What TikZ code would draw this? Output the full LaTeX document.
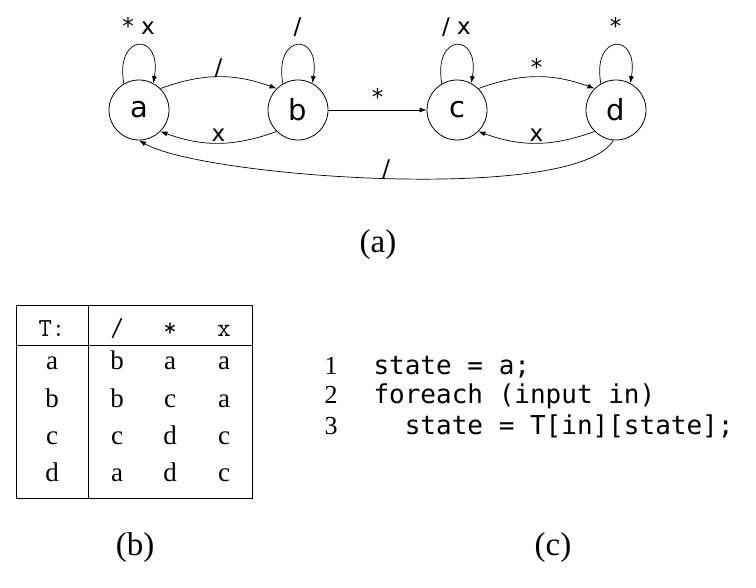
\documentclass[tikz,border=0pt]{standalone}
\usepackage{fontspec}
\setmainfont{Liberation Serif}
\setsansfont{DejaVu Sans}
\newfontfamily\codefont{DejaVu Sans Mono}
\usetikzlibrary{arrows.meta,positioning}

\tikzset{
  fsmstate/.style={shape=circle, draw=black, line width=0.8pt, minimum size=60pt, inner sep=0pt,
    font=\sffamily\fontsize{29}{29}\selectfont},
  trans/.style={-{Latex[length=7pt,width=5pt]}, line width=0.7pt},
  lbl/.style={font=\sffamily\fontsize{23}{23}\selectfont, inner sep=1pt, text height=0.72em, text depth=0.05em},
  looplbl/.style={lbl, above=9pt},
  cell/.style={anchor=base, font=\fontsize{27}{27}\selectfont},
  numcell/.style={anchor=base, font=\fontsize{26}{26}\selectfont},
  headcell/.style={anchor=base, font=\ttfamily\fontsize{26}{26}\selectfont},
  subcap/.style={font=\fontsize{33}{33}\selectfont},
  codeline/.style={anchor=base west, font=\codefont\fontsize{26}{26}\selectfont},
}

\begin{document}
\begin{tikzpicture}[x=1pt,y=1pt]
\useasboundingbox (0,0) rectangle (756,-588);

% States
\node[fsmstate] (a) at (139,-110) {a};
\node[fsmstate] (b) at (298,-110) {b};
\node[fsmstate] (c) at (457,-110) {c};
\node[fsmstate] (d) at (616,-110) {d};

% Transitions
\draw[trans] (a.120) to[out=100, in=80, distance=52pt] node[looplbl] {* x} (a.62);
\draw[trans] (b.120) to[out=100, in=80, distance=52pt] node[looplbl] {/} (b.62);
\draw[trans] (c.120) to[out=100, in=80, distance=52pt] node[looplbl] {/ x} (c.62);
\draw[trans] (d.120) to[out=100, in=80, distance=52pt] node[looplbl] {*} (d.62);
\draw[trans] (a.45) to[bend left=20] node[lbl, above] {/} (b.135);
\draw[trans] (b.225) to[bend left=20] node[lbl, above] {x} (a.315);
\draw[trans] (b) -- node[lbl, above=3pt] {*} (c);
\draw[trans] (c.45) to[bend left=20] node[lbl, above] {*} (d.135);
\draw[trans] (d.225) to[bend left=20] node[lbl, above] {x} (c.315);
\draw[trans] (d.265) to[out=240, in=330, looseness=0.4] node[lbl, above] {/} (a.270);

\node[subcap] (capa) at (378,-245) {(a)};

% Table
\draw[line width=0.8pt] (16,-305) rectangle (252,-498);
\draw[line width=0.8pt] (16,-345) -- (252,-345);
\draw[line width=0.8pt] (88,-305) -- (88,-498);
\node[headcell] (hT) at (52,-337) {T:};
\node[headcell] (hs) at (117,-337) {/};
\node[headcell] (hm) at (170,-337) {*};
\node[headcell] (hx) at (224,-337) {x};
\foreach \s/\p/\m/\x [count=\i] in {a/b/a/a, b/b/c/a, c/c/d/c, d/a/d/c} {
  \pgfmathsetmacro{\ry}{-333-37*\i}
  \node[cell] (r\i s) at (52,\ry) {\s};
  \node[cell] (r\i p) at (117,\ry) {\p};
  \node[cell] (r\i m) at (170,\ry) {\m};
  \node[cell] (r\i x) at (224,\ry) {\x};
}
\node[subcap] (capb) at (135,-548) {(b)};

% Code
\node[numcell] (n1) at (331,-374) {1};
\node[numcell] (n2) at (331,-404) {2};
\node[numcell] (n3) at (331,-435) {3};
\node[codeline] (l1) at (370,-374) {state = a;};
\node[codeline] (l2) at (370,-404) {foreach (input in)};
\node[codeline] (l3) at (370,-435) {\ \ state = T[in][state];};
\node[subcap] (capc) at (553,-548) {(c)};
\end{tikzpicture}
\end{document}
